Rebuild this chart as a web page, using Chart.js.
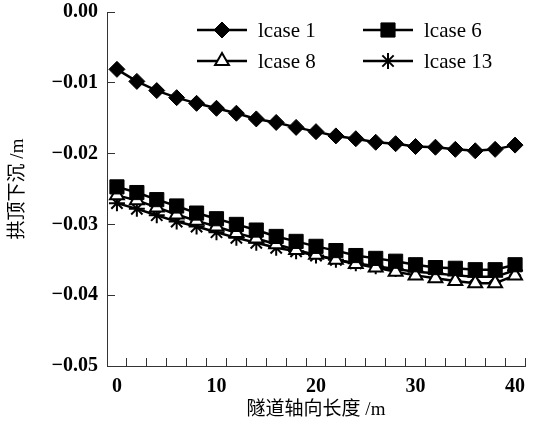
<!DOCTYPE html>
<html>
<head>
<meta charset="utf-8">
<script src="https://cdn.jsdelivr.net/npm/chart.js@4.4.1/dist/chart.umd.min.js"></script>
<style>
  body { margin: 0; background: #fff; }
  canvas { display: block; }
</style>
</head>
<body>
<canvas id="chart" width="536" height="424"></canvas>
<script>
// distance along the tunnel axis (m)
const positions = [0, 2, 4, 6, 8, 10, 12, 14, 16, 18, 20, 22, 24, 26, 28, 30, 32, 34, 36, 38, 40];

// crown settlement (m) for each load case
const lcase1 = [-0.0081, -0.0098, -0.0111, -0.0121, -0.0129, -0.0136, -0.0143, -0.0151, -0.0156, -0.0163,
  -0.0169, -0.0175, -0.0179, -0.0184, -0.0186, -0.0190, -0.0191, -0.0194, -0.0196, -0.0194, -0.0188];
const lcase6 = [-0.0247, -0.0255, -0.0265, -0.0274, -0.0284, -0.0292, -0.0300, -0.0308, -0.0317, -0.0324,
  -0.0331, -0.0337, -0.0344, -0.0348, -0.0352, -0.0357, -0.0361, -0.0362, -0.0364, -0.0364, -0.0357];
const lcase8 = [-0.0259, -0.0266, -0.0276, -0.0286, -0.0295, -0.0303, -0.0312, -0.0320, -0.0328, -0.0336,
  -0.0343, -0.0350, -0.0356, -0.0361, -0.0367, -0.0372, -0.0376, -0.0380, -0.0383, -0.0383, -0.0372];
const lcase13 = [-0.0270, -0.0278, -0.0287, -0.0296, -0.0303, -0.0311, -0.0319, -0.0326, -0.0333, -0.0338,
  -0.0344, -0.0350, -0.0355, -0.0359, -0.0363, -0.0367, -0.0369, -0.0372, -0.0374, -0.0374, -0.0365];

const yTicks = [-0.05, -0.04, -0.03, -0.02, -0.01, 0];
const xLabels = [0, 10, 20, 30, 40];

const serif = "'Liberation Serif', 'Noto Sans CJK SC'";

const toPoints = values => values.map((v, i) => ({ x: positions[i], y: v }));

function series(label, values, style, radius, fill, borderWidth) {
  return {
    label,
    data: toPoints(values),
    borderColor: '#000',
    borderWidth: 2.5,
    pointStyle: style,
    pointRadius: radius,
    pointHoverRadius: radius,
    pointBackgroundColor: fill,
    pointBorderColor: '#000',
    pointBorderWidth: borderWidth,
    tension: 0
  };
}

// two-column legend inside the plot, line + marker + name
const legendBox = {
  id: 'legendBox',
  afterDraw(chart) {
    const ctx = chart.ctx;
    const slots = [[197, 30], [363, 30], [197, 61], [363, 61]];
    ctx.save();
    ctx.font = '21px ' + serif;
    ctx.textBaseline = 'middle';
    chart.data.datasets.forEach((ds, i) => {
      const [x, y] = slots[i];
      ctx.strokeStyle = '#000';
      ctx.lineWidth = 2.5;
      ctx.beginPath();
      ctx.moveTo(x, y);
      ctx.lineTo(x + 50, y);
      ctx.stroke();
      ctx.fillStyle = ds.pointBackgroundColor;
      ctx.lineWidth = ds.pointBorderWidth;
      Chart.helpers.drawPoint(ctx, {
        pointStyle: ds.pointStyle,
        radius: ds.pointRadius,
        borderWidth: ds.pointBorderWidth,
        rotation: 0
      }, x + 25, y);
      ctx.fillStyle = '#000';
      ctx.fillText(ds.label, x + 61, y + 1);
    });
    ctx.restore();
  }
};

new Chart(document.getElementById('chart'), {
  type: 'line',
  data: {
    datasets: [
      series('lcase 1', lcase1, 'rectRot', 8, '#000', 1),
      series('lcase 6', lcase6, 'rect', 10, '#000', 1),
      series('lcase 8', lcase8, 'triangle', 8, '#fff', 2),
      series('lcase 13', lcase13, 'star', 8, '#000', 2)
    ]
  },
  options: {
    responsive: false,
    animation: false,
    layout: { padding: { top: 12, right: 11, left: 0, bottom: 0 } },
    plugins: {
      legend: { display: false },
      tooltip: { enabled: false }
    },
    scales: {
      x: {
        type: 'linear',
        min: -1,
        max: 41,
        afterBuildTicks: scale => {
          const vals = [];
          for (let v = -1; v <= 41; v += 2) vals.push(v);
          xLabels.forEach(v => vals.push(v));
          scale.ticks = vals.sort((a, b) => a - b).map(v => ({ value: v }));
        },
        afterFit: scale => {
          scale.height = 58;
          scale.paddingLeft = 0;
          scale.paddingRight = 0;
        },
        grid: {
          drawOnChartArea: false,
          tickLength: -8,
          tickWidth: 1,
          tickColor: ctx => (ctx.tick && xLabels.includes(ctx.tick.value)) ? 'rgba(0,0,0,0)' : '#333'
        },
        border: { color: '#333', width: 1 },
        ticks: {
          autoSkip: false,
          maxRotation: 0,
          padding: 17,
          color: '#000',
          font: { family: serif, size: 20, weight: 'bold' },
          callback: v => xLabels.includes(v) ? String(v) : ''
        },
        title: {
          display: true,
          text: '隧道轴向长度 /m',
          color: '#000',
          font: { family: serif, size: 19 },
          padding: { top: 0, bottom: 3 }
        }
      },
      y: {
        min: -0.05,
        max: 0,
        afterBuildTicks: scale => { scale.ticks = yTicks.map(v => ({ value: v })); },
        afterFit: scale => {
          scale.width = 107;
          scale.paddingTop = 0;
          scale.paddingBottom = 0;
        },
        grid: {
          drawOnChartArea: false,
          tickLength: -8,
          tickWidth: 1,
          tickColor: '#333'
        },
        border: { color: '#333', width: 1 },
        ticks: {
          padding: 17,
          color: '#000',
          font: { family: serif, size: 20, weight: 'bold' },
          callback: v => v === 0 ? '0.00' : '\u2212' + Math.abs(v).toFixed(2)
        },
        title: {
          display: true,
          text: '拱顶下沉 /m',
          color: '#000',
          font: { family: serif, size: 19 },
          padding: { top: 7, bottom: 0 }
        }
      }
    }
  },
  plugins: [legendBox]
});
</script>
</body>
</html>
